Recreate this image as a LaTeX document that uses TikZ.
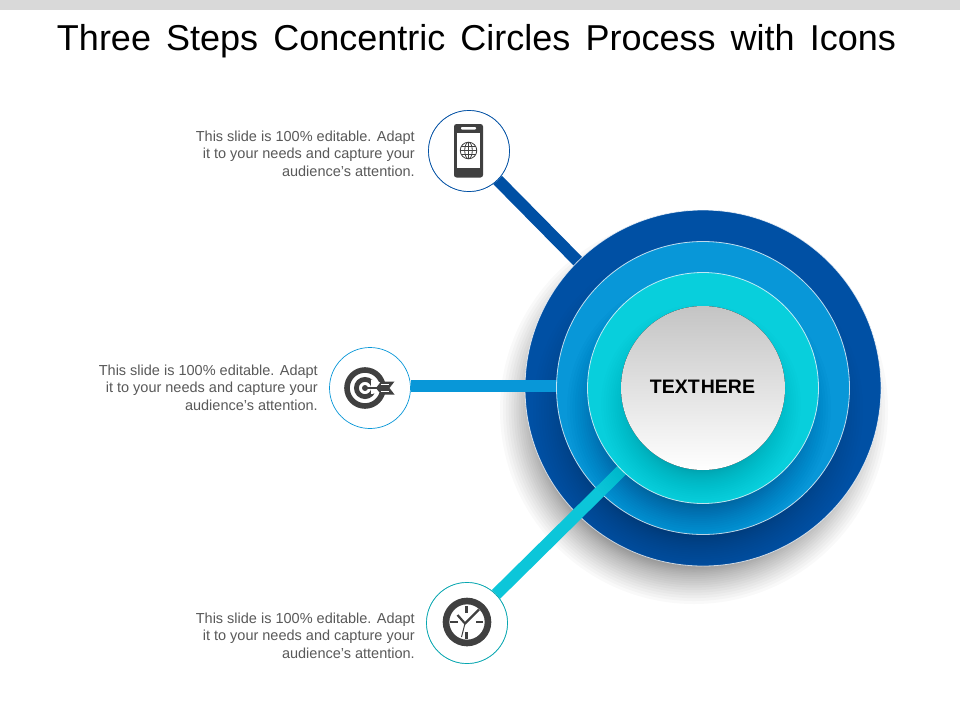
\documentclass[tikz,border=0pt]{standalone}
\usepackage{fontspec}
\setmainfont{Liberation Sans}
\definecolor{ringA}{HTML}{0050A4}
\definecolor{ringB}{HTML}{0897D8}
\definecolor{ringC}{HTML}{08CFDC}
\definecolor{lineC}{HTML}{0CC6D9}
\definecolor{icondark}{HTML}{404040}
\definecolor{bodytext}{HTML}{595959}
\definecolor{barGray}{HTML}{D9D9D9}
\definecolor{coreTop}{HTML}{C4C4C4}
\newcommand{\softshadow}[5]{% cx cy rmax rmin opacity
  \foreach \k in {0,...,29}{
    \pgfmathsetmacro{\rr}{#4+(#3-#4)*((29-\k)/29)*((29-\k)/29)}
    \fill[black,fill opacity=#5] (#1,#2) circle[radius=\rr];
  }}
\tikzset{
  x=1pt,y=-1pt,
  conn/.style={line width=12pt,line cap=butt},
  badge/.style={circle,draw,fill=white,minimum size=81pt,inner sep=0pt,line width=0.7pt},
  blurb/.style={align=right,anchor=east,font=\fontsize{14.5}{17.5}\selectfont,text=bodytext,inner sep=0pt},
  dark/.style={fill=icondark,draw=none},
  wht/.style={fill=white,draw=none},
  ringedge/.style={draw=white,draw opacity=0.75,line width=0.8pt},
}
\begin{document}
\begin{tikzpicture}
\useasboundingbox (0,0) rectangle (960,720);
\fill[white] (0,0) rectangle (960,720);
\fill[barGray] (0,0) rectangle (960,10);
\node[font=\fontsize{36}{40}\selectfont,text=black,inner sep=0pt] (title) at (476.5,41.5)
  {\spaceskip=0.42em Three Steps Concentric Circles Process with Icons};

\coordinate (ctr) at (703,388);
\coordinate (end2) at (558,386);
\coordinate (end3) at (625,467);

\node[badge,draw=ringA] (phone) at (469,151) {};
\node[badge,draw=ringB] (target) at (370,388) {};
\node[badge,draw=ringC!80!black] (clock) at (467,623) {};

% big shadow
\softshadow{694}{410}{194}{150}{0.024}

% connector 1 behind the rings
\draw[conn,ringA] (phone) -- (ctr);
\node[badge,draw=ringA] at (phone) {};

% outer disc
\fill[ringA] (ctr) circle[radius=178];
\draw[ringedge] (ctr) circle[radius=178];
\begin{scope}
  \clip (ctr) circle[radius=178];
  \softshadow{698}{410}{165}{122}{0.010}
\end{scope}

% connector 2
\draw[conn,ringB] (target.east |- end2) -- (end2);

% middle disc
\fill[ringB] (ctr) circle[radius=146.5];
\draw[ringedge] (ctr) circle[radius=146.5];
\begin{scope}
  \clip (ctr) circle[radius=146.5];
  \softshadow{699}{408}{132}{92}{0.007}
\end{scope}

% connector 3
\draw[conn,lineC] (clock) -- (end3);
\node[badge,draw=ringC!80!black] at (clock) {};
\begin{scope}
  \clip (ctr) circle[radius=146.5];
  \softshadow{699}{408}{132}{92}{0.004}
\end{scope}

% inner disc
\fill[ringC] (ctr) circle[radius=115.5];
\draw[ringedge] (ctr) circle[radius=115.5];
\begin{scope}
  \clip (ctr) circle[radius=115.5];
  \softshadow{701}{404}{100}{64}{0.007}
\end{scope}

% core
\fill[top color=coreTop,bottom color=white] (ctr) circle[radius=82];
\node[font=\bfseries\fontsize{19.5}{21}\selectfont,text=black,inner sep=0pt] (core) at (702.5,387)
  {\spaceskip=0.06em TEXT HERE};

% texts
\node[blurb] (t1) at (415,153.5) {This slide is 100\% editable. Adapt\\it to your needs and capture your\\audience's attention.};
\node[blurb] (t2) at (318,387.5) {This slide is 100\% editable. Adapt\\it to your needs and capture your\\audience's attention.};
\node[blurb] (t3) at (415,635.5) {This slide is 100\% editable. Adapt\\it to your needs and capture your\\audience's attention.};

% phone icon
\fill[dark,rounded corners=2.5pt] (454,124) rectangle (483,177.5);
\fill[wht] (457,132.5) rectangle (480,168);
\fill[wht,rounded corners=0.8pt] (461,127) rectangle (476,129.5);
\begin{scope}[icondark,line width=0.8pt]
  \draw (468.5,150.5) circle[radius=8.3];
  \draw (468.5,150.5) ellipse[x radius=3.8,y radius=8.3];
  \draw (468.5,142.2) -- (468.5,158.8);
  \draw (460.2,150.5) -- (476.8,150.5);
  \draw (461.4,146.2) -- (475.6,146.2);
  \draw (461.4,154.8) -- (475.6,154.8);
\end{scope}

% target icon
\begin{scope}
  \draw[icondark,line width=5.6pt] (365,388) circle[radius=18];
  \draw[icondark,line width=4.8pt] (365,388) circle[radius=8.6];
  \fill[dark] (365,388) circle[radius=3];
  \fill[wht] (371,379.5) -- (385,384) -- (385,392) -- (371,394) -- cycle;
  \fill[dark] (365,386.8) rectangle (380,389.2);
  \fill[dark] (376,388) -- (381,381.5) -- (394.5,381.5) -- (389.5,388) -- (394.5,394.5) -- (381,394.5) -- cycle;
  \draw[white,line width=0.7pt] (381,384.5) -- (389,384.5) (381,391.5) -- (389,391.5);
\end{scope}

% clock icon
\begin{scope}
  \draw[icondark,line width=6.6pt] (467,622) circle[radius=21];
  \begin{scope}[icondark,line width=2.2pt]
    \draw (466.5,606) -- (466.5,613);
    \draw (466.5,632) -- (466.5,639);
    \draw (450,622) -- (457.5,622);
    \draw (476,622) -- (483,622);
  \end{scope}
  \draw[icondark,line width=2.2pt,line join=round] (479,609.5) -- (465,623.5) -- (457.5,615);
  \draw[icondark,line width=1pt] (465,623.5) -- (461.5,637);
\end{scope}
\end{tikzpicture}
\end{document}
